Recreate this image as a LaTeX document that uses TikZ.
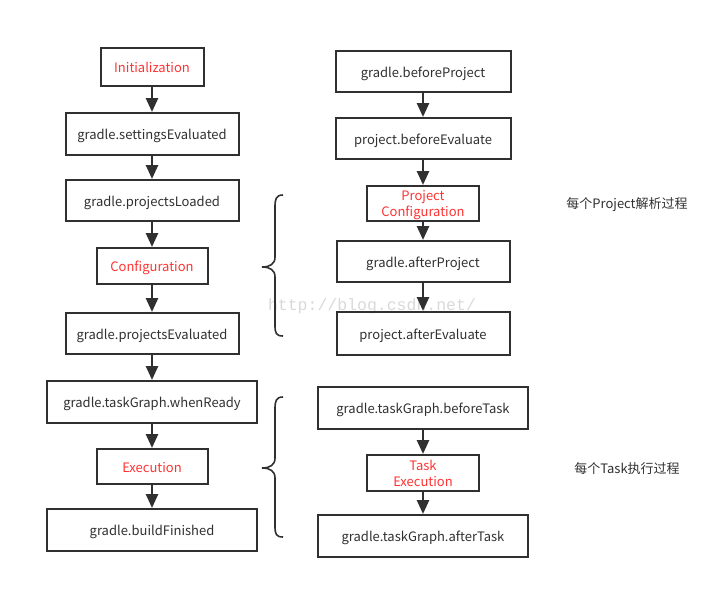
\documentclass[tikz,border=0pt]{standalone}
\usepackage{fontspec}
\setmainfont{Noto Sans CJK SC}
\newfontfamily\wmfont{Liberation Mono}
\usetikzlibrary{arrows.meta}

\definecolor{linegray}{HTML}{303030}
\definecolor{stepred}{HTML}{FF3333}

\begin{document}
\begin{tikzpicture}[x=1pt,y=-1pt,
    box/.style={draw=linegray, line width=2pt, inner sep=0pt, text=linegray,
        font=\fontsize{13}{16}\selectfont, align=center, text height=11pt, text depth=0pt},
    redbox/.style={box, text=stepred},
    twoline/.style={redbox, text height=26pt, text depth=0pt},
    arr/.style={draw=linegray, line width=2.6pt, -{Triangle[width=12pt,length=14pt]}},
    curly/.style={draw=linegray, line width=1.6pt},
    note/.style={text=linegray, font=\fontsize{13}{16}\selectfont, text height=11pt, text depth=0pt}]
    \useasboundingbox (0,0) rectangle (728,589);

    % watermark
    \node[text=gray!30, font=\wmfont\fontsize{16.5}{17}\selectfont] (wm) at (372,306) {http://blog.csdn.net/};

    % left column
    \node[redbox, minimum width=103, minimum height=38] (init)   at (152,66.5)  {Initialization};
    \node[box,    minimum width=173, minimum height=42] (setev)  at (152,134)   {gradle.settingsEvaluated};
    \node[box,    minimum width=173, minimum height=41] (loaded) at (152,200.5) {gradle.projectsLoaded};
    \node[redbox, minimum width=111, minimum height=36] (config) at (152,266)   {Configuration};
    \node[box,    minimum width=173, minimum height=41] (projev) at (152,333.5) {gradle.projectsEvaluated};
    \node[box,    minimum width=210, minimum height=42] (ready)  at (152,402)   {gradle.taskGraph.whenReady};
    \node[redbox, minimum width=111, minimum height=35] (exec)   at (152,466.5) {Execution};
    \node[box,    minimum width=210, minimum height=42] (finish) at (152,530)   {gradle.buildFinished};

    \draw[arr] (init) -- (setev);
    \draw[arr] (setev) -- (loaded);
    \draw[arr] (loaded) -- (config);
    \draw[arr] (config) -- (projev);
    \draw[arr] (projev) -- (ready);
    \draw[arr] (ready) -- (exec);
    \draw[arr] (exec) -- (finish);

    % right column
    \node[box,     minimum width=175, minimum height=41] (befproj) at (423,71.5)  {gradle.beforeProject};
    \node[box,     minimum width=175, minimum height=41] (befeval) at (423,138.5) {project.beforeEvaluate};
    \node[twoline, minimum width=112, minimum height=35] (pconf)   at (423,203.5) {Project\\Configuration};
    \node[box,     minimum width=173, minimum height=41] (aftproj) at (423,261.5) {gradle.afterProject};
    \node[box,     minimum width=173, minimum height=43] (afteval) at (423,333.5) {project.afterEvaluate};

    \draw[arr] (befproj) -- (befeval);
    \draw[arr] (befeval) -- (pconf);
    \draw[arr] (pconf) -- (aftproj);
    \draw[arr] (aftproj) -- (afteval);

    \node[box,     minimum width=210, minimum height=42] (beftask) at (423,408) {gradle.taskGraph.beforeTask};
    \node[twoline, minimum width=112, minimum height=36] (texec)   at (423,473) {Task\\Execution};
    \node[box,     minimum width=210, minimum height=42] (afttask) at (423,536) {gradle.taskGraph.afterTask};

    \draw[arr] (beftask) -- (texec);
    \draw[arr] (texec) -- (afttask);

    % braces
    \draw[curly] (283,195) .. controls (276,195) and (275,199) .. (275,207) -- (275,257)
        .. controls (275,264) and (270,267) .. (262,267)
        .. controls (270,267) and (275,270) .. (275,277) -- (275,325)
        .. controls (275,333) and (276,336) .. (283,336);
    \draw[curly] (283,397) .. controls (276,397) and (275,401) .. (275,409) -- (275,458)
        .. controls (275,465) and (270,468) .. (262,468)
        .. controls (270,468) and (275,471) .. (275,478) -- (275,526)
        .. controls (275,534) and (276,537) .. (283,537);

    % notes
    \node[note] (pnote) at (627,203) {每个Project解析过程};
    \node[note] (tnote) at (627,468) {每个Task执行过程};
\end{tikzpicture}
\end{document}
